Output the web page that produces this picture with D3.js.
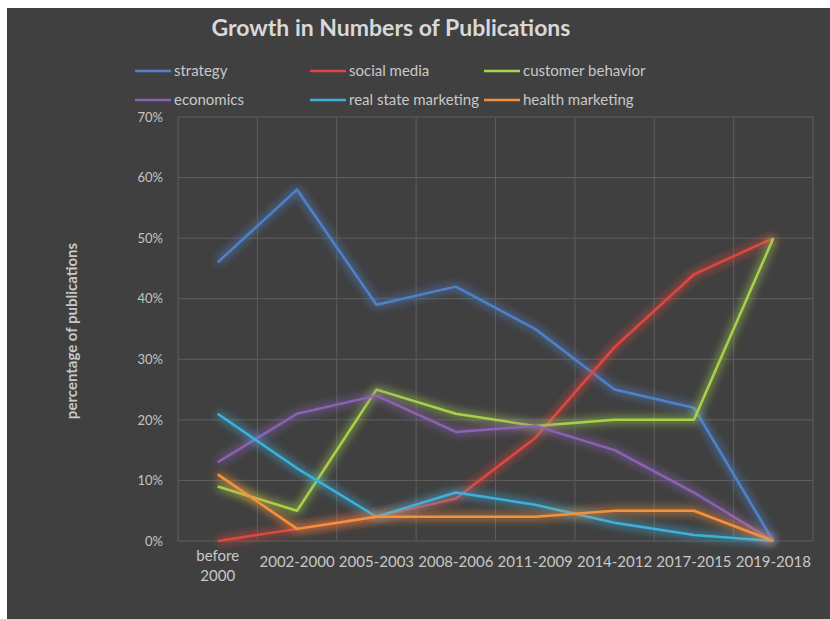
<!DOCTYPE html>
<html>
<head>
<meta charset="utf-8">
<script src="https://cdn.jsdelivr.net/npm/d3@7"></script>
<style>
  body { margin: 0; background: #fff; }
  svg text { font-family: Lato, "Open Sans", sans-serif; }
</style>
</head>
<body>
<div id="chart"></div>
<script>
var categories = ["before 2000", "2002-2000", "2005-2003", "2008-2006", "2011-2009", "2014-2012", "2017-2015", "2019-2018"];
var seriesNames = ["strategy", "social media", "customer behavior", "economics", "real state marketing", "health marketing"];
var strategy = [46, 58, 39, 42, 35, 25, 22, 0];
var socialMedia = [0, 2, 4, 7, 17, 32, 44, 50];
var customerBehavior = [9, 5, 25, 21, 19, 20, 20, 50];
var economics = [13, 21, 24, 18, 19, 15, 8, 0];
var realStateMarketing = [21, 12, 4, 8, 6, 3, 1, 0];
var healthMarketing = [11, 2, 4, 4, 4, 5, 5, 0];
var yTicks = [0, 10, 20, 30, 40, 50, 60, 70];

var colors = ["#4f81c9", "#e0463f", "#a8d14c", "#8b62b3", "#3db0dc", "#f4913c"];
var allSeries = [strategy, socialMedia, customerBehavior, economics, realStateMarketing, healthMarketing];

var w = 830, h = 619;
var plotLeft = 178, plotRight = 813, plotTop = 117, plotBottom = 541;

var svg = d3.select("#chart").append("svg")
  .attr("width", w)
  .attr("height", h);

// frame: white strip on top/left, dark panel
svg.append("rect").attr("width", w).attr("height", h).attr("fill", "#ffffff");
svg.append("rect").attr("x", 7).attr("y", 8).attr("width", w - 7).attr("height", h - 8).attr("fill", "#404040");

// soft glow round each line, as in the office style
var defs = svg.append("defs");
var glow = defs.append("filter").attr("id", "glow")
  .attr("x", "-20%").attr("y", "-20%").attr("width", "140%").attr("height", "140%");
glow.append("feGaussianBlur").attr("in", "SourceGraphic").attr("stdDeviation", 5).attr("result", "blur");
glow.append("feComponentTransfer").attr("in", "blur").attr("result", "blur2")
  .append("feFuncA").attr("type", "linear").attr("slope", 1.6);
var merge = glow.append("feMerge");
merge.append("feMergeNode").attr("in", "blur2");
merge.append("feMergeNode").attr("in", "SourceGraphic");

var xScale = d3.scaleBand().domain(categories).range([plotLeft, plotRight]);
var yScale = d3.scaleLinear().domain([0, 70]).range([plotBottom, plotTop]);

// gridlines
svg.append("g")
  .selectAll("line")
  .data(yTicks)
  .enter()
  .append("line")
  .attr("x1", plotLeft).attr("x2", plotRight)
  .attr("y1", function(d) { return yScale(d); })
  .attr("y2", function(d) { return yScale(d); })
  .attr("stroke", "#5e5e5e")
  .attr("stroke-width", 1);

var xEdges = categories.map(function(c) { return xScale(c); }).concat([plotRight]);
svg.append("g")
  .selectAll("line")
  .data(xEdges)
  .enter()
  .append("line")
  .attr("x1", function(d) { return d; })
  .attr("x2", function(d) { return d; })
  .attr("y1", plotTop).attr("y2", plotBottom)
  .attr("stroke", "#5e5e5e")
  .attr("stroke-width", 1);

// y axis
var yAxis = d3.axisLeft(yScale)
  .tickValues(yTicks)
  .tickSize(0)
  .tickPadding(15)
  .tickFormat(function(d) { return d + "%"; });
var yg = svg.append("g").attr("transform", "translate(" + plotLeft + ",0)").call(yAxis);
yg.select(".domain").remove();
yg.selectAll("text").attr("fill", "#c4c4c4").style("font-size", "13px");

// x axis
var xAxis = d3.axisBottom(xScale).tickSize(0).tickPadding(15);
var xg = svg.append("g").attr("transform", "translate(0," + plotBottom + ")").call(xAxis);
xg.select(".domain").remove();
xg.selectAll("text")
  .attr("fill", "#c8c8c8")
  .style("font-size", "15px")
  .each(function(d) {
    if (d === "before 2000") {
      var t = d3.select(this).text(null);
      t.append("tspan").attr("x", 0).attr("dy", "0.3em").text("before");
      t.append("tspan").attr("x", 0).attr("dy", "1.35em").text("2000");
    }
  });

// lines
var line = d3.line()
  .x(function(d, i) { return xScale(categories[i]) + xScale.bandwidth() / 2; })
  .y(function(d) { return yScale(d); });

svg.append("g")
  .selectAll("path")
  .data(allSeries)
  .enter()
  .append("path")
  .attr("d", function(d) { return line(d); })
  .attr("fill", "none")
  .attr("stroke", function(d, i) { return colors[i]; })
  .attr("stroke-width", 2.5)
  .attr("stroke-linejoin", "round")
  .attr("filter", "url(#glow)");

// title
svg.append("text")
  .attr("x", 391).attr("y", 36)
  .attr("text-anchor", "middle")
  .attr("fill", "#d8d8d8")
  .style("font-size", "23px")
  .style("font-weight", "bold")
  .text("Growth in Numbers of Publications");

// y axis title
svg.append("text")
  .attr("transform", "translate(77,331) rotate(-90)")
  .attr("text-anchor", "middle")
  .attr("fill", "#c8c8c8")
  .style("font-size", "15px")
  .style("font-weight", "bold")
  .text("percentage of publications");

// legend
var legendLineX = [135, 310, 484];
var legendY = [71, 100];
var legend = svg.append("g")
  .selectAll("g")
  .data(seriesNames)
  .enter()
  .append("g")
  .attr("transform", function(d, i) {
    return "translate(" + legendLineX[i % 3] + "," + legendY[Math.floor(i / 3)] + ")";
  });
legend.append("line")
  .attr("x1", 0)
  .attr("x2", 36)
  .attr("stroke", function(d, i) { return colors[i]; })
  .attr("stroke-width", 2.5);
legend.append("text")
  .attr("x", 39)
  .attr("dy", "0.35em")
  .attr("fill", "#c8c8c8")
  .style("font-size", "15px")
  .text(function(d) { return d; });
</script>
</body>
</html>
